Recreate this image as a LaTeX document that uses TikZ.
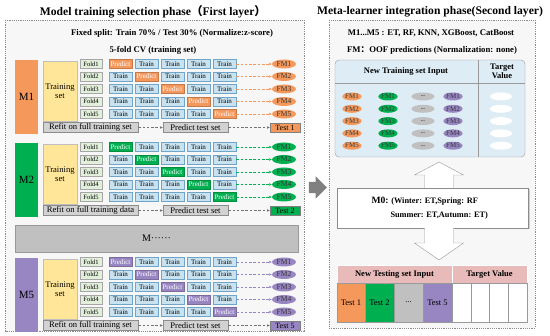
\documentclass[tikz,border=0pt]{standalone}
\usepackage{fontspec}
\setmainfont{Liberation Serif}
\newfontfamily\cjk{Noto Sans CJK SC}
\usetikzlibrary{arrows.meta,shapes.geometric,shapes.arrows,shadows}

\definecolor{morange}{RGB}{244,152,92}
\definecolor{mgreen}{RGB}{0,176,80}
\definecolor{mpurple}{RGB}{152,134,194}
\definecolor{tsyellow}{RGB}{255,230,153}
\definecolor{foldgreen}{RGB}{226,239,218}
\definecolor{trainblue}{RGB}{200,226,240}
\definecolor{trainedge}{RGB}{110,165,200}
\definecolor{refitgray}{RGB}{210,210,210}
\definecolor{mgray}{RGB}{192,192,192}
\definecolor{tabblue}{RGB}{222,236,246}
\definecolor{tabpink}{RGB}{232,186,185}

\begin{document}
\begin{tikzpicture}[x=1pt, y=-1pt,
  panel/.style={draw=black!45, dash pattern=on 1.2pt off 1pt, fill=black!3},
  title/.style={font=\fontsize{11.6}{12}\selectfont\bfseries},
  note/.style={font=\fontsize{8.7}{9}\selectfont\bfseries},
  mbox/.style={minimum width=23pt, minimum height=74pt, inner sep=0pt, font=\fontsize{11}{11}\selectfont},
  tsbox/.style={fill=tsyellow, draw=black!25, minimum width=34pt, minimum height=60pt, inner sep=0pt, align=center, font=\fontsize{8.6}{9.5}\selectfont},
  fold/.style={fill=foldgreen, draw=black!35, minimum width=22pt, minimum height=9pt, inner sep=0pt, font=\fontsize{6.5}{6.5}\selectfont},
  cell/.style={fill=trainblue, draw=trainedge, minimum width=23pt, minimum height=9pt, inner sep=0pt, font=\fontsize{7}{7}\selectfont},
  fm/.style={ellipse, minimum width=24pt, minimum height=9pt, inner sep=0pt, font=\fontsize{7.5}{7.5}\selectfont, text=black!80},
  fmr/.style={ellipse, minimum width=17pt, minimum height=8pt, inner sep=0pt, font=\fontsize{7}{7}\selectfont, text=black!80},
  graybox/.style={fill=refitgray, draw=black!45, minimum height=10pt, inner sep=0pt, font=\fontsize{8.6}{8.6}\selectfont},
  testbox/.style={draw=black!50, minimum width=30pt, minimum height=9pt, inner sep=0pt, font=\fontsize{8}{8}\selectfont},
  link/.style={dash pattern=on 2.5pt off 1.8pt, -{Stealth[length=3pt,width=2.6pt]}, semithick},
  hollow/.style={draw=black!40, fill=white, line join=miter},
  head/.style={font=\fontsize{8.5}{9.5}\selectfont\bfseries},
  tcell/.style={draw=black!40, minimum height=39pt, inner sep=0pt, font=\fontsize{8.5}{8.5}\selectfont}
]
\useasboundingbox (0,0) rectangle (550,336);

% first layer
\draw[panel] (5,20) rectangle (304,331);
\node[title] (ltitle) at (153,12) {Model training selection phase{\cjk （}First layer{\cjk ）}};
\node[note] (split) at (172,33) {Fixed split: Train 70\% / Test 30\% (Normalize:z-score)};
\node[note] (cv) at (153,50) {5-fold CV (training set)};

\foreach \m/\y/\col/\data in {1/64/morange/set, 2/147/mgreen/data, 5/262/mpurple/set}{
  \node[mbox, fill=\col] (M\m) at (26.5,\y+33) {M\m};
  \node[tsbox] (ts\m) at (60,\y+27) {Training\\set};
  \foreach \i in {1,...,5}{
    \node[fold] (f\m-\i) at (91,\y+12.5*\i-12.5) {Fold\i};
    \foreach \j in {1,...,5}{
      \ifnum\i=\j
        \node[cell, fill=\col, draw=\col!80!black, text=white] (c\m-\i-\j) at (94.5+26*\j,\y+12.5*\i-12.5) {Predict};
      \else
        \node[cell] (c\m-\i-\j) at (94.5+26*\j,\y+12.5*\i-12.5) {Train};
      \fi
    }
    \node[fm, fill=\col] (fm\m-\i) at (284,\y+12.5*\i-12.5) {FM\i};
    \draw[link, \col] (c\m-\i-5) -- (fm\m-\i);
  }
  \node[graybox, minimum width=95pt] (refit\m) at (90.5,\y+63.5) {Refit on full training \data};
  \node[graybox, minimum width=65pt] (pred\m) at (195.5,\y+63.5) {Predict test set};
  \node[testbox, fill=\col] (test\m) at (285,\y+63.5) {Test \m};
  \draw[link, black!55] (refit\m) -- (pred\m);
  \draw[link, black!55] (pred\m) -- (test\m);
}
\node[fill=mgray, draw=black!40, minimum width=283pt, minimum height=27pt, font=\fontsize{10}{10}\selectfont] (mdots) at (156.5,238.5) {M······};

% between the layers
\node[single arrow, fill=black!50, inner xsep=0pt, inner ysep=5.5pt, single arrow head extend=5.5pt, minimum height=18pt] (phase) at (315,187.5) {};

% second layer
\draw[panel] (329,20) rectangle (535,328);
\node[title] (rtitle) at (430,12) {Meta-learner integration phase(Second layer)};
\node[note] (models) at (431,33) {M1...M5 : ET, RF, KNN, XGBoost, CatBoost};
\node[note] (fmnote) at (432,50) {FM{\cjk ：}OOF predictions (Normalization: none)};

\node[draw=black!40, fill=tabblue, rounded corners=4pt, minimum width=190pt, minimum height=97pt] (trainTab) at (430,108.5) {};
\draw[black!40] (trainTab.west |- 0,83) -- (trainTab.east |- 0,83);
\draw[black!40] (trainTab.north -| 478,0) -- (trainTab.south -| 478,0);
\node[head] (tin) at (406,71.5) {New Training set Input};
\node[head, align=center] (tval) at (502,71.5) {Target\\Value};
\foreach \i in {1,...,5}{
  \node[fmr, fill=morange] (ro\i) at (352,84.2+12.3*\i) {FM\i};
  \node[fmr, fill=mgreen] (rg\i) at (388,84.2+12.3*\i) {FM\i};
  \node[fmr, fill=mgray, minimum width=23pt, font=\fontsize{5.5}{5.5}\selectfont\bfseries] (rd\i) at (423,84.2+12.3*\i) {...};
  \node[fmr, fill=mpurple] (rp\i) at (453,84.2+12.3*\i) {FM\i};
  \node[fmr, fill=white, minimum width=22pt] (rw\i) at (501,84.2+12.3*\i) {};
}

\node[draw=black!45, fill=white, drop shadow={shadow xshift=1.5pt, shadow yshift=-1.5pt, fill=black!35}, minimum width=191pt, minimum height=40pt, text width=122pt, align=flush left, font=\fontsize{8.3}{14}\selectfont\bfseries] (mzero) at (432.5,208)
  {{\fontsize{9.6}{14}\selectfont M0:} (Winter: ET,Spring: RF\\\hspace*{19pt}Summer: ET,Autumn: ET)};

% hollow arrows from M0
\draw[hollow] (mzero.north -| 424.5,0) -- (424.5,175) -- (414.5,175) -- (439,162)
  -- (463.5,175) -- (453.5,175) -- (mzero.north -| 453.5,0);
\draw[hollow] (mzero.south -| 424.5,0) -- (424.5,243) -- (414.5,243) -- (439,260)
  -- (463.5,243) -- (453.5,243) -- (mzero.south -| 453.5,0);

\node[fill=tabpink, draw=white, minimum width=115pt, minimum height=18pt, head] (testIn) at (394.5,274) {New Testing set Input};
\node[fill=tabpink, draw=white, minimum width=75pt, minimum height=18pt, head] (testVal) at (489.5,274) {Target Value};
\node[tcell, fill=morange, minimum width=28pt] (t1) at (351,302.5) {Test 1};
\node[tcell, fill=mgreen, minimum width=29pt] (t2) at (379.5,302.5) {Test 2};
\node[tcell, fill=mgray, minimum width=29pt] (t3) at (408.5,302.5) {...};
\node[tcell, fill=mpurple, minimum width=29pt] (t5) at (437.5,302.5) {Test 5};
\foreach \k in {1,...,4}
  \node[tcell, fill=white, minimum width=18.75pt] (tv\k) at (442.6+18.75*\k,302.5) {};
\end{tikzpicture}
\end{document}
